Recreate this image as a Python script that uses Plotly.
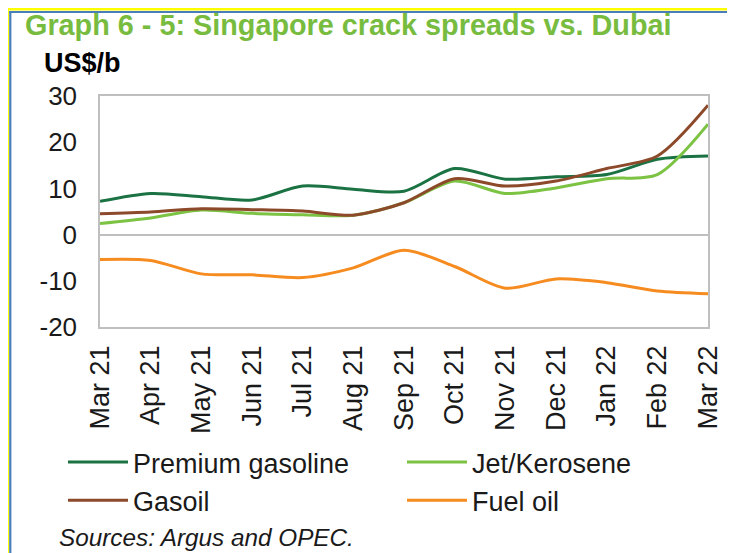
import plotly.graph_objects as go

# ---- data ----
months = ["Mar 21", "Apr 21", "May 21", "Jun 21", "Jul 21", "Aug 21", "Sep 21",
          "Oct 21", "Nov 21", "Dec 21", "Jan 22", "Feb 22", "Mar 22"]
premium_gasoline = [7.2, 8.9, 8.2, 7.5, 10.5, 9.8, 9.4, 14.3, 12.0, 12.5, 13.0, 16.3, 17.0]
jet_kerosene = [2.4, 3.6, 5.3, 4.6, 4.3, 4.2, 6.9, 11.6, 8.9, 10.1, 12.1, 13.0, 23.9]
gasoil = [4.5, 4.9, 5.6, 5.4, 5.1, 4.2, 6.9, 12.1, 10.5, 11.6, 14.3, 17.0, 28.0]
fuel_oil = [-5.4, -5.6, -8.5, -8.7, -9.3, -7.2, -3.4, -6.9, -11.6, -9.6, -10.4, -12.2, -12.8]
y_ticks = [-20, -10, 0, 10, 20, 30]
y_tick_labels = ["-20", "-10", "0", "10", "20", "30"]

series = [
    ("Premium gasoline", premium_gasoline, "#1b7243"),
    ("Jet/Kerosene", jet_kerosene, "#7cc243"),
    ("Gasoil", gasoil, "#8c4a2b"),
    ("Fuel oil", fuel_oil, "#f68b1f"),
]

# page body has an 8px default margin; target screen coords are offset by it
OFF = 8
W, H = 735, 553
SL, SR, ST, SB = 100, 708, 96, 327          # plot area in screen pixels
L, T = SL - OFF, ST - OFF
PW, PH = SR - SL, SB - ST
R, B = W - L - PW, H - T - PH

def px(X):
    return (X - SL) / PW

def py(Y):
    return (SB - Y) / PH

FONT = "Liberation Sans, Arial, sans-serif"
xpos = list(range(len(months)))

fig = go.Figure()
for name, vals, col in series:
    fig.add_trace(go.Scatter(
        x=xpos, y=vals, name=name, mode="lines",
        line=dict(color=col, width=3, shape="spline", smoothing=0.8),
    ))

fig.update_layout(
    width=W, height=H,
    margin=dict(l=L, r=R, t=T, b=B, autoexpand=False),
    paper_bgcolor="white", plot_bgcolor="white",
    font=dict(family=FONT, size=26, color="#1a1a1a"),
    showlegend=True,
    legend=dict(
        orientation="h", x=px(63), y=py(438), xanchor="left", yanchor="top",
        font=dict(size=27, color="#1a1a1a"),
        entrywidth=264, entrywidthmode="pixels",
        itemwidth=60, tracegroupgap=0, bgcolor="rgba(0,0,0,0)",
        traceorder="normal",
    ),
    title=dict(
        text="<b>Graph 6 - 5: Singapore crack spreads vs. Dubai</b>",
        x=(25 - OFF) / W, xanchor="left", xref="container",
        y=1 - (25 - OFF) / H, yanchor="middle", yref="container",
        font=dict(family=FONT, size=28.8, color="#78bc3f"),
    ),
    xaxis=dict(
        range=[0, len(months) - 1],
        tickmode="array", tickvals=xpos, ticktext=months,
        tickangle=-90, showgrid=False, zeroline=False,
        showline=True, linecolor="#bfbfbf", linewidth=1.5, mirror=True,
        ticks="", ticklabelstandoff=6, automargin=False,
        tickfont=dict(size=27, color="#1a1a1a"),
    ),
    yaxis=dict(
        range=[-20, 30], tickmode="array", tickvals=y_ticks, ticktext=y_tick_labels,
        showgrid=False, zeroline=True, zerolinecolor="#bfbfbf", zerolinewidth=1.5,
        showline=True, linecolor="#bfbfbf", linewidth=1.5, mirror=True,
        ticks="", ticklabelstandoff=16, automargin=False,
        tickfont=dict(size=26, color="#1a1a1a"),
    ),
)

fig.add_annotation(
    text="<b>US$/b</b>", xref="paper", yref="paper",
    x=px(42), y=py(63), xanchor="left", yanchor="middle", showarrow=False,
    font=dict(family=FONT, size=27, color="black"),
)
fig.add_annotation(
    text="<i>Sources: Argus and OPEC.</i>", xref="paper", yref="paper",
    x=px(57), y=py(537), xanchor="left", yanchor="middle", showarrow=False,
    font=dict(family=FONT, size=24.3, color="#1a1a1a"),
)

# frame lines (yellow outer, blue inner) on top and left
for Xc, Yc, col, w in [(7.7, 9.3, "#ffff00", 2.6), (10.3, 12.0, "#4a7ebb", 2.2)]:
    fig.add_shape(type="line", xref="paper", yref="paper",
                  x0=px(Xc), x1=px(Xc), y0=py(Yc - w / 2), y1=py(H + 20),
                  line=dict(color=col, width=w), layer="above")
    fig.add_shape(type="line", xref="paper", yref="paper",
                  x0=px(Xc - w / 2), x1=px(W + 20), y0=py(Yc), y1=py(Yc),
                  line=dict(color=col, width=w), layer="above")

fig.write_html("out.html")
